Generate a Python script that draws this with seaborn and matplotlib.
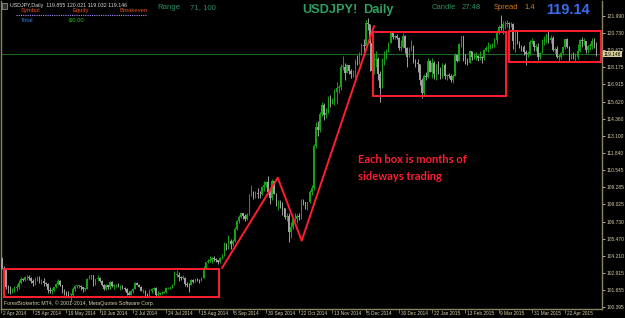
import numpy as np
import pandas as pd
import matplotlib
matplotlib.use("Agg")
import matplotlib.pyplot as plt
import matplotlib.transforms as mtransforms
from matplotlib.patches import Rectangle
import seaborn as sns

# ---------------- data (USDJPY daily) ----------------
close_apr14 = [103.85,103.95,103.30,103.15,101.85,101.70,101.55,101.60,101.80,101.90,102.20,102.45,102.40,102.60,102.60,102.55,102.30,102.15,102.55,102.55,102.30]
high_apr14  = [104.00,104.05,104.12,103.40,103.20,102.00,101.95,101.80,101.95,102.10,102.40,102.60,102.55,102.70,102.75,102.75,102.60,102.45,102.65,102.70,102.70]
low_apr14   = [103.60,103.70,103.20,102.95,101.75,101.40,101.35,101.40,101.50,101.60,101.75,102.10,102.30,102.35,102.40,102.40,102.20,101.95,102.05,102.35,102.20]

close_may14 = [102.30,102.15,102.10,101.65,101.60,101.65,101.85,102.10,102.35,102.00,101.55,101.45,101.35,101.30,101.30,101.70,101.95,101.95,101.95,101.85,101.75,101.75]
high_may14  = [102.45,102.55,102.25,102.15,101.90,101.80,101.90,102.15,102.45,102.40,102.05,101.70,101.55,101.55,101.40,101.85,102.05,102.05,102.05,102.00,101.90,101.80]
low_may14   = [102.10,101.95,101.95,101.45,101.45,101.35,101.60,101.80,102.00,101.95,101.45,101.30,101.15,101.10,100.80,101.20,101.60,101.80,101.80,101.65,101.50,101.55]

close_jun14 = [102.50,102.70,102.75,102.10,102.45,102.55,102.35,102.05,101.75,102.00,101.85,102.25,101.95,101.95,102.05,101.90,101.95,101.80,101.70,101.40,101.30]
high_jun14  = [102.55,102.80,102.80,102.80,102.50,102.75,102.65,102.40,102.10,102.10,102.05,102.30,102.30,102.10,102.10,102.15,102.05,102.00,101.85,101.80,101.55]
low_jun14   = [101.70,102.45,102.50,101.95,102.00,102.35,102.25,101.95,101.65,101.65,101.70,101.75,101.90,101.75,101.85,101.85,101.65,101.70,101.55,101.25,101.25]

close_jul14 = [101.55,101.75,102.20,102.05,101.90,101.60,101.60,101.35,101.30,101.60,101.70,101.80,101.30,101.35,101.40,101.45,101.50,101.80,101.80,101.85,102.05,102.80,102.80]
high_jul14  = [101.65,101.80,102.25,102.25,102.10,101.95,101.70,101.65,101.40,101.70,101.80,101.90,101.90,101.55,101.45,101.55,101.55,101.85,101.90,101.90,102.10,103.05,103.15]
low_jul14   = [101.25,101.45,101.70,102.00,101.85,101.55,101.40,101.10,101.10,101.20,101.45,101.65,101.15,101.10,101.30,101.35,101.40,101.45,101.70,101.75,101.80,102.00,102.60]

close_aug14 = [102.60,102.55,102.55,102.10,102.05,102.00,102.40,102.25,102.45,102.40,102.35,102.55,103.30,103.70,103.80,103.85,104.05,103.95,103.85,103.70,104.05]
high_aug14  = [103.00,102.70,102.75,102.60,102.25,102.15,102.45,102.50,102.50,102.55,102.45,102.60,103.40,103.75,103.95,104.15,104.10,104.20,104.05,103.90,104.10]
low_aug14   = [102.30,102.40,102.45,101.95,101.85,101.50,102.05,102.15,102.25,102.30,102.20,102.30,102.55,103.20,103.65,103.70,103.65,103.80,103.70,103.55,103.65]

close_sep14 = [104.25,105.05,104.75,105.30,105.05,105.30,106.15,106.75,107.10,107.35,107.15,106.95,107.25,108.70,108.95,108.75,108.85,108.80,108.75,109.30,109.45,109.65]
high_sep14  = [104.35,105.20,105.15,105.70,105.40,105.45,106.30,106.85,107.25,107.40,107.40,107.30,107.40,108.80,109.45,109.00,109.00,109.25,109.00,109.40,109.75,109.75]
low_sep14   = [103.95,104.20,104.60,104.70,104.70,104.95,105.20,106.10,106.65,107.00,106.95,106.75,106.85,107.20,108.60,108.40,108.50,108.50,108.45,108.70,109.00,109.30]

close_oct14 = [108.90,108.45,109.75,108.80,108.05,108.15,107.85,107.70,107.10,107.15,105.95,106.30,106.90,106.90,107.15,107.05,108.25,108.15,107.80,108.15,108.90,109.20,112.30]
high_oct14  = [110.09,109.10,109.85,109.75,108.85,108.30,108.35,108.15,107.75,107.40,107.40,106.70,107.00,107.35,107.30,107.40,108.40,108.40,108.20,108.20,109.10,109.45,112.45]
low_oct14   = [108.75,108.00,108.35,108.75,107.85,107.60,107.75,107.20,106.95,106.75,105.20,105.50,106.15,106.75,106.60,106.85,106.90,107.95,107.65,107.60,108.10,108.70,109.05]

close_nov14 = [113.75,113.55,114.70,115.40,114.60,114.75,115.80,115.55,115.75,116.30,116.60,116.70,118.20,118.20,117.75,118.30,117.90,117.65,117.70,118.65]
high_nov14  = [114.10,114.15,114.85,115.60,115.50,115.15,116.00,116.10,115.90,116.55,117.05,116.85,118.40,118.98,118.45,118.40,118.35,118.05,117.95,118.75]
low_nov14   = [112.20,113.10,113.40,114.55,114.25,114.40,114.75,115.20,115.45,115.40,115.45,116.25,116.50,117.95,117.20,117.80,117.70,117.40,117.45,117.35]

close_dec14 = [118.40,119.20,119.80,119.75,121.45,121.40,120.00,117.90,118.70,118.75,117.70,116.60,118.75,118.80,119.45,120.00,120.75,120.40,120.45,120.35,119.60,119.70]
high_dec14  = [119.10,119.30,119.95,120.25,121.70,121.85,121.10,120.30,119.20,119.40,118.95,117.90,118.85,119.40,119.55,120.05,120.80,120.80,120.55,120.65,120.40,120.20]
low_dec14   = [118.30,118.40,119.10,119.30,119.65,120.90,117.90,117.60,117.65,118.20,117.25,115.57,116.60,118.30,119.05,119.30,119.95,120.25,120.25,120.25,119.45,119.35]

close_jan15 = [120.50,119.60,118.90,119.60,119.75,118.55,118.45,118.40,117.20,116.25,117.55,117.45,118.65,117.85,118.45,117.70,118.30,117.90,117.50,118.30,117.50]
high_jan15  = [120.70,120.55,119.65,119.70,120.20,119.80,118.80,118.75,118.40,117.35,117.65,117.80,118.85,118.70,118.85,118.60,118.40,118.60,118.15,118.45,118.50]
low_jan15   = [119.60,119.20,118.20,118.90,119.35,118.50,118.20,117.85,116.85,115.86,116.05,117.20,117.40,117.80,117.35,117.30,117.25,117.65,117.30,117.35,117.30]

close_feb15 = [117.60,117.55,117.25,117.55,119.10,118.65,119.90,120.45,119.05,118.75,118.50,119.35,118.90,118.95,119.00,118.85,118.90,118.85,119.45,119.60]
high_feb15  = [117.70,117.75,117.70,117.65,119.20,119.15,120.00,120.50,120.45,119.15,118.85,119.45,119.40,119.20,119.30,119.05,119.35,119.00,119.55,119.75]
low_feb15   = [117.25,117.35,117.05,117.00,117.50,118.55,118.70,119.70,118.60,118.40,118.30,118.45,118.70,118.75,118.70,118.65,118.70,118.50,118.70,119.35]

close_mar15 = [119.75,119.75,119.80,120.20,120.80,121.15,121.10,121.35,121.35,121.45,121.35,121.40,120.15,120.75,120.00,119.70,119.65,119.30,119.15,119.15,120.05,120.10]
high_mar15  = [120.05,119.90,119.95,120.30,120.95,121.30,122.03,121.60,121.60,121.65,121.55,121.55,121.45,120.80,120.90,120.15,119.85,119.80,119.45,119.35,120.20,120.30]
low_mar15   = [119.30,119.55,119.60,119.70,119.90,120.65,120.95,120.65,121.00,121.15,121.00,121.15,119.55,119.30,119.90,119.60,119.40,119.10,118.30,118.90,119.10,119.90]

close_apr15 = [119.70,119.70,118.95,119.25,120.15,120.20,120.60,120.20,120.35,119.45,119.55,118.95,118.95,119.20,119.70,120.25,119.65,118.95,119.05,118.90,118.95,119.40]
high_apr15  = [120.10,119.90,119.95,119.30,120.25,120.45,120.65,120.85,120.55,120.45,119.70,119.75,119.15,119.30,119.75,120.25,120.30,119.75,119.25,119.30,119.20,119.90]
low_apr15   = [119.40,119.40,118.70,118.75,119.20,119.85,119.95,120.00,119.95,119.40,119.25,118.85,118.55,118.75,119.05,119.55,119.60,118.55,118.80,118.75,118.65,118.75]

close_may15 = [120.20,120.15,120.15,119.45,119.75,119.75,120.10,119.855,119.146]
high_may15  = [120.25,120.40,120.35,120.10,119.80,119.95,120.30,120.30,120.021]
low_may15   = [119.30,119.70,119.80,119.25,119.20,119.45,119.55,119.60,119.032]

first_open = 103.70
holidays = ["2014-12-25", "2015-01-01"]

y_ticks = [121.990,120.730,119.475,118.175,116.915,115.620,114.360,113.100,111.840,110.545,
           109.285,108.025,106.730,105.470,104.210,102.915,101.655,100.395]
date_ticks = ["2 Apr 2014","25 Apr 2014","19 May 2014","10 Jun 2014","2 Jul 2014","24 Jul 2014",
              "15 Aug 2014","8 Sep 2014","30 Sep 2014","22 Oct 2014","13 Nov 2014","5 Dec 2014",
              "30 Dec 2014","22 Jan 2015","13 Feb 2015","9 Mar 2015","31 Mar 2015","22 Apr 2015"]

bid_price = 119.146
header_ohlc = "USDJPY,Daily  119.855 120.021 119.032 119.146"

# ---------------- assemble ----------------
months_c = [close_apr14, close_may14, close_jun14, close_jul14, close_aug14, close_sep14, close_oct14,
            close_nov14, close_dec14, close_jan15, close_feb15, close_mar15, close_apr15, close_may15]
months_h = [high_apr14, high_may14, high_jun14, high_jul14, high_aug14, high_sep14, high_oct14,
            high_nov14, high_dec14, high_jan15, high_feb15, high_mar15, high_apr15, high_may15]
months_l = [low_apr14, low_may14, low_jun14, low_jul14, low_aug14, low_sep14, low_oct14,
            low_nov14, low_dec14, low_jan15, low_feb15, low_mar15, low_apr15, low_may15]
close = np.concatenate(months_c)
high = np.concatenate(months_h)
low = np.concatenate(months_l)
open_ = np.concatenate([[first_open], close[:-1]])
high = np.maximum(high, np.maximum(open_, close))
low = np.minimum(low, np.minimum(open_, close))

dates = pd.bdate_range("2014-04-02", periods=len(close) + 2)
dates = dates[~dates.isin(pd.to_datetime(holidays))][:len(close)]
df = pd.DataFrame({"date": dates, "open": open_, "high": high, "low": low, "close": close})
df["idx"] = np.arange(len(df))
df["up"] = df["close"] >= df["open"]

# ---------------- style ----------------
sns.set_theme(style="dark", rc={"axes.facecolor": "black", "figure.facecolor": "black",
                                "axes.grid": False, "savefig.facecolor": "black"})
plt.rcParams["font.family"] = ["Liberation Sans", "DejaVu Sans"]

W, H = 625, 318
fig = plt.figure(figsize=(W / 100, H / 100), dpi=100)
ax = fig.add_axes([1 / W, 1 - 309 / H, 601 / W, 308 / H])
ax.set_facecolor("black")

PX_PER_BAR = 2.078
X0 = -2.2  # pixel of bar 0
def px_to_idx(px):
    return (px - X0) / PX_PER_BAR
Y_REF, P_REF, PX_PER_YEN = 15.7, 121.99, 13.489
def py_to_price(py):
    return P_REF - (py - Y_REF) / PX_PER_YEN

ax.set_xlim(px_to_idx(1), px_to_idx(602))
ax.set_ylim(py_to_price(309), py_to_price(1))

GREEN = "#17a317"
GREY = "#a0a0a0"
FRAME = "#8a8560"
LABEL = "#d8d0a8"

# bid line
sns.lineplot(x=[ax.get_xlim()[0], ax.get_xlim()[1]], y=[bid_price, bid_price], ax=ax,
             color="#1c6a1c", linewidth=0.8, zorder=1)

cols = np.where(df["up"], GREEN, GREY)
ax.vlines(df["idx"], df["low"], df["high"], colors=cols, linewidth=0.7, zorder=2)
body = np.maximum(np.abs(df["close"] - df["open"]), 0.04)
ax.bar(df["idx"], body, bottom=np.minimum(df["open"], df["close"]), width=0.66,
       color=cols, linewidth=0, zorder=3)

# red annotation boxes (price/time anchored)
RED = "#ff1e2d"
boxes = [(px_to_idx(4), py_to_price(297.3), px_to_idx(219), py_to_price(269.3)),
         (px_to_idx(372.7), py_to_price(96), px_to_idx(505.7), py_to_price(31.7)),
         (px_to_idx(509), py_to_price(61.7), px_to_idx(601), py_to_price(30.7))]
for x0, y0, x1, y1 in boxes:
    ax.add_patch(Rectangle((x0, y0), x1 - x0, y1 - y0, fill=False, edgecolor=RED,
                           linewidth=1.4, zorder=5))
zig_x = [px_to_idx(p) for p in (222, 277.7, 301.7, 374)]
zig_y = [py_to_price(p) for p in (268, 177.7, 240.7, 26)]
ax.plot(zig_x, zig_y, color=RED, linewidth=1.4, zorder=5)

# axes frame
ax.spines["top"].set_visible(False)
for s in ["left", "right", "bottom"]:
    ax.spines[s].set_color(FRAME)
    ax.spines[s].set_linewidth(1.0)

ax.yaxis.tick_right()
ax.set_yticks(y_ticks)
ax.set_yticklabels([f"{v:.3f}" for v in y_ticks])
ax.tick_params(axis="y", which="both", right=True, left=False, length=2, width=0.6,
               color=LABEL, labelcolor=LABEL, labelsize=3.5, pad=1.0)

# date ticks
tick_dates = pd.to_datetime(date_ticks, format="%d %b %Y")
pos = [int(np.where(df["date"] == d)[0][0]) for d in tick_dates]
pos[0] = ax.get_xlim()[0]
ax.set_xticks(pos)
ax.set_xticklabels([])
ax.tick_params(axis="x", bottom=True, length=3, width=0.6, color=FRAME)
trans = mtransforms.offset_copy(ax.get_xaxis_transform(), fig=fig, x=1.8, y=-1.6, units="dots")
for p, lab in zip(pos, date_ticks):
    ax.text(p, 0, lab, transform=trans, ha="left", va="top", fontsize=3.4, color=LABEL)

# price label box at right
fig.text(604 / W, 1 - 54 / H, f"{bid_price:.3f}", fontsize=3.5, color="black", ha="left",
         va="center", bbox=dict(boxstyle="square,pad=0.15", fc="#d8cf98", ec="none"))

def ft(x, y, s, **kw):
    fig.text(x / W, 1 - y / H, s, **kw)

# top-left header
fig.add_artist(Rectangle((2 / W, 1 - 8.5 / H), 5 / W, 5.5 / H, transform=fig.transFigure,
                         fc="#303030", ec="#a0a0a0", lw=0.5))
ft(9.5, 5, header_ohlc, fontsize=3.8, color="#d8d8d8", va="center")
ft(20.7, 10.5, "Symbol", fontsize=4.2, color="#e8501e", va="center")
ft(72.7, 10.5, "Equity", fontsize=4.2, color="#e8501e", va="center")
ft(119.3, 10.5, "Breakeven", fontsize=4.2, color="#e8501e", va="center")
fig.add_artist(plt.Line2D([16 / W, 147 / W], [1 - 15 / H, 1 - 15 / H], transform=fig.transFigure,
                          color="#a890ff", lw=0.8, ls=(0, (1, 1))))
ft(20.7, 20, "Total", fontsize=4.2, color="#2a80e8", va="center")
ft(67.7, 20, "-$0.00", fontsize=4.2, color="#22c022", va="center")

ft(157.3, 7.5, "Range", fontsize=5.6, color="#2f8f5f", va="center")
ft(190, 7.5, "71, 100", fontsize=5.6, color="#2f8f5f", va="center")
ft(302.5, 10, "USDJPY!", fontsize=9.2, color="#2ea060", va="center", fontweight="bold")
ft(363.3, 10, "Daily", fontsize=9.2, color="#2ea060", va="center", fontweight="bold")
ft(431.7, 7.5, "Candle", fontsize=5.5, color="#2f8f5f", va="center")
ft(462, 7.5, "27:48", fontsize=5.5, color="#2f8f5f", va="center")
ft(494, 7.5, "Spread", fontsize=5.5, color="#d87a1a", va="center")
ft(524, 7.5, "1.4", fontsize=5.5, color="#d87a1a", va="center")
ft(546.5, 10, "119.14", fontsize=10.5, color="#3a6cf0", va="center", fontweight="bold")

ft(4, 303.5, "ForexBrokerInc MT4, \u00a9 2001-2014, MetaQuotes Software Corp.", fontsize=3.8,
   color=LABEL, va="center")

# annotation text
ft(358, 159.5, "Each box is months of", fontsize=8, color=RED, va="center",
   family=["Lato", "DejaVu Sans"], fontweight="bold")
ft(358, 177, "sideways trading", fontsize=8, color=RED, va="center",
   family=["Lato", "DejaVu Sans"], fontweight="bold")

fig.savefig("out.png", dpi=100, facecolor="black")
